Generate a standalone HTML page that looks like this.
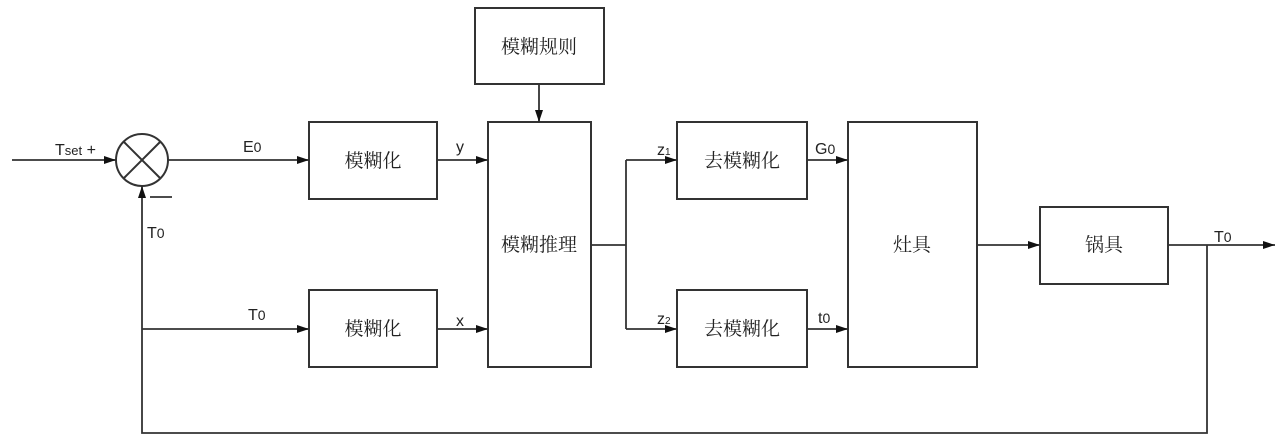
<!DOCTYPE html>
<html><head><meta charset="utf-8"><style>
html,body{margin:0;padding:0;background:#fff;}
svg text{font-family:"Liberation Sans","Noto Sans CJK SC",sans-serif;fill:#222;}
.c{font-family:"Noto Serif CJK SC","Noto Sans CJK SC",serif;font-size:19px;}
.l{font-size:16px;}
</style></head><body>
<svg width="1283" height="441" viewBox="0 0 1283 441" xmlns="http://www.w3.org/2000/svg">
<defs><marker id="a" markerWidth="12" markerHeight="8" refX="12" refY="4" orient="auto" markerUnits="userSpaceOnUse"><path d="M0,0 L12,4 L0,8 z" fill="#111"/></marker></defs>
<g fill="none" stroke="#333" stroke-width="2">
<rect x="475" y="8" width="129" height="76"/>
<rect x="309" y="122" width="128" height="77"/>
<rect x="309" y="290" width="128" height="77"/>
<rect x="488" y="122" width="103" height="245"/>
<rect x="677" y="122" width="130" height="77"/>
<rect x="677" y="290" width="130" height="77"/>
<rect x="848" y="122" width="129" height="245"/>
<rect x="1040" y="207" width="128" height="77"/>
<circle cx="142" cy="160" r="26"/>
<line x1="124" y1="142" x2="160" y2="178"/>
<line x1="160" y1="142" x2="124" y2="178"/>
</g>
<g fill="none" stroke="#333" stroke-width="1.8">
<line x1="12" y1="160" x2="116" y2="160" marker-end="url(#a)"/>
<line x1="168" y1="160" x2="309" y2="160" marker-end="url(#a)"/>
<line x1="437" y1="160" x2="488" y2="160" marker-end="url(#a)"/>
<line x1="437" y1="329" x2="488" y2="329" marker-end="url(#a)"/>
<line x1="142" y1="329" x2="309" y2="329" marker-end="url(#a)"/>
<line x1="539" y1="84" x2="539" y2="122" marker-end="url(#a)"/>
<polyline points="591,245 626,245"/>
<polyline points="626,160 626,329"/>
<line x1="626" y1="160" x2="677" y2="160" marker-end="url(#a)"/>
<line x1="626" y1="329" x2="677" y2="329" marker-end="url(#a)"/>
<line x1="807" y1="160" x2="848" y2="160" marker-end="url(#a)"/>
<line x1="807" y1="329" x2="848" y2="329" marker-end="url(#a)"/>
<line x1="977" y1="245" x2="1040" y2="245" marker-end="url(#a)"/>
<line x1="1168" y1="245" x2="1275" y2="245" marker-end="url(#a)"/>
<polyline points="1207,245 1207,433 142,433 142,186" marker-end="url(#a)"/>
<line x1="150" y1="197" x2="172" y2="197"/>
</g>
<text class="c" x="539" y="53" text-anchor="middle">模糊规则</text>
<text class="c" x="373" y="167" text-anchor="middle">模糊化</text>
<text class="c" x="373" y="335" text-anchor="middle">模糊化</text>
<text class="c" x="539" y="251" text-anchor="middle">模糊推理</text>
<text class="c" x="742" y="167" text-anchor="middle">去模糊化</text>
<text class="c" x="742" y="335" text-anchor="middle">去模糊化</text>
<text class="c" x="912" y="251" text-anchor="middle">灶具</text>
<text class="c" x="1104" y="251" text-anchor="middle">锅具</text>
<text class="l" x="55" y="155">T<tspan font-size="13">set</tspan> +</text>
<text class="l" x="243" y="152">E<tspan font-size="14">0</tspan></text>
<text class="l" x="456" y="152">y</text>
<text class="l" x="456" y="326">x</text>
<text class="l" x="147" y="238">T<tspan font-size="14">0</tspan></text>
<text class="l" x="248" y="320">T<tspan font-size="14">0</tspan></text>
<text class="l" x="657" y="155">z<tspan font-size="10">1</tspan></text>
<text class="l" x="657" y="324">z<tspan font-size="10">2</tspan></text>
<text class="l" x="815" y="154">G<tspan font-size="14">0</tspan></text>
<text class="l" x="818" y="323">t<tspan font-size="14">0</tspan></text>
<text class="l" x="1214" y="242">T<tspan font-size="14">0</tspan></text>
</svg>
</body></html>
